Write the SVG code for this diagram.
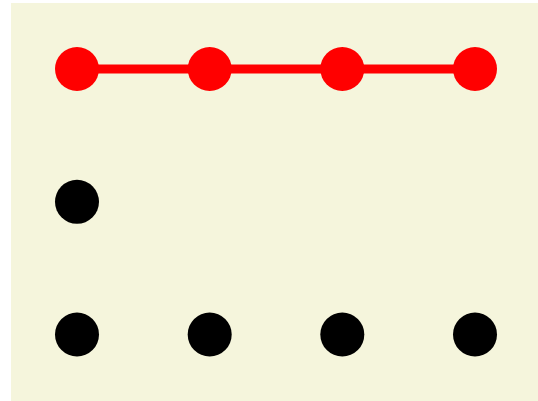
<svg xmlns="http://www.w3.org/2000/svg" width="538" height="401" viewBox="0 0 538 401">
<style>
.red{fill:#FF0000}
.blk{fill:#000000}
.edge{stroke:#FF0000;stroke-width:9;fill:none}
</style>
<rect x="11" y="3" width="527" height="398" fill="#F5F5DC"/>
<g id="connectors">
<line class="edge" x1="77" y1="69" x2="475" y2="69"/>
</g>
<g id="n1"><circle class="red" cx="77" cy="69" r="22"/></g>
<g id="n2"><circle class="red" cx="209.7" cy="69" r="22"/></g>
<g id="n3"><circle class="red" cx="342.3" cy="69" r="22"/></g>
<g id="n4"><circle class="red" cx="475" cy="69" r="22"/></g>
<g id="n5"><circle class="blk" cx="77" cy="201.8" r="22"/></g>
<g id="n6"><circle class="blk" cx="77" cy="334.5" r="22"/></g>
<g id="n7"><circle class="blk" cx="209.7" cy="334.5" r="22"/></g>
<g id="n8"><circle class="blk" cx="342.3" cy="334.5" r="22"/></g>
<g id="n9"><circle class="blk" cx="475" cy="334.5" r="22"/></g>
</svg>
